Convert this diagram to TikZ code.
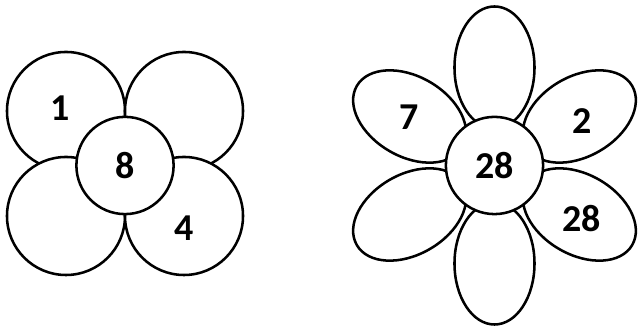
\documentclass[tikz,border=0pt]{standalone}
\usepackage{fontspec}
\setmainfont{Carlito}
\usetikzlibrary{shapes.geometric}
\begin{document}
\begin{tikzpicture}[x=0.025cm, y=0.025cm,
  petal/.style={draw=black, fill=white, line width=1.8pt, inner sep=0pt},
  round/.style={petal, circle, minimum size=2.95cm},
  leaf/.style={petal, ellipse, minimum width=3.05cm, minimum height=2cm},
  hub/.style={petal, circle, minimum size=2.43cm},
  num/.style={font=\fontsize{27}{30}\selectfont\bfseries, inner sep=0pt}
]
\useasboundingbox (0,0) rectangle (641,326);
% four round petals
\node[round] (p1) at (66,215) {};
\node[round] (p2) at (184,215) {};
\node[round] (p3) at (66,110) {};
\node[round] (p4) at (184,110) {};
\node[hub] (h1) at (125,160.5) {};
\node[num] (n1) at (60,217.5) {1};
\node[num] (n8) at (h1) {8};
\node[num] (n4) at (184,97.5) {4};
% six long petals
\coordinate (c) at (494.5,160.5);
\foreach \a in {90,150,...,390}
  \node[leaf, rotate=\a] (q\a) at ([shift={(\a:98)}]c) {};
\node[hub] (h2) at (c) {};
\node[num] (n7) at (409,208.5) {7};
\node[num] (n2) at (582,204.5) {2};
\node[num] (nc) at (h2) {28};
\node[num] (nr) at (581.5,107.5) {28};
\end{tikzpicture}
\end{document}
